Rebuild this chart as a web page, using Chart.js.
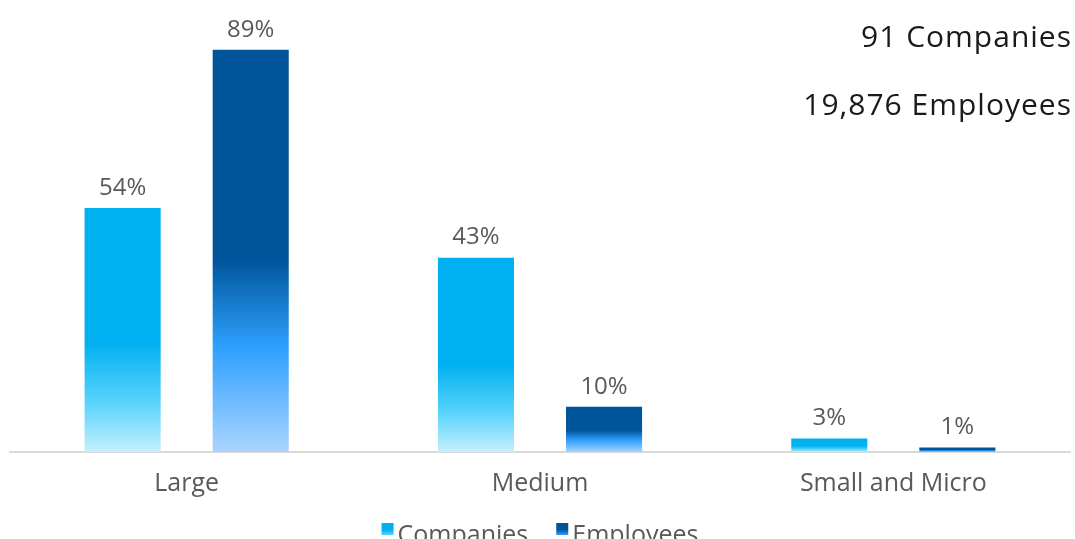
<!DOCTYPE html>
<html>
<head>
<meta charset="utf-8">
<script src="https://cdn.jsdelivr.net/npm/chart.js@4/dist/chart.umd.min.js"></script>
<style>
  html, body { margin: 0; padding: 0; background: #fff; overflow: hidden; }
  #chartWrapper { position: relative; width: 1075px; height: 539px; }
</style>
</head>
<body>
<div id="chartWrapper"><canvas id="chart"></canvas></div>
<script>
'use strict';

// Company size split
const categories = ['Large', 'Medium', 'Small and Micro'];
const companiesShare = [54, 43, 3];
const employeesShare = [89, 10, 1];
const totals = ['91 Companies', '19,876 Employees'];

const FONT = '"Open Sans", sans-serif';
const GREY = '#595959';

const companiesStops = [[0, '#00b0f0'], [0.55, '#00b0f0'], [0.8, '#5ad4fb'], [1, '#c4f0fd']];
const employeesStops = [[0, '#00559a'], [0.52, '#00559a'], [0.74, '#2ea0ff'], [1, '#aad4fe']];

const makeGradient = function (ctx, top, bottom, stops) {
    const grad = ctx.createLinearGradient(0, top, 0, bottom);
    stops.forEach(([pos, color]) => grad.addColorStop(pos, color));
    return grad;
};

// Vertical fill per bar: solid on the upper half, fading out towards the axis
const barGradient = function (stops) {
    return function (context) {
        const chart = context.chart;
        const yScale = chart.scales.y;
        if (!chart.chartArea || !yScale || context.parsed === undefined) {
            return stops[0][1];
        }
        const top = yScale.getPixelForValue(context.parsed.y);
        const bottom = yScale.getPixelForValue(0);
        if (!(bottom - top > 0.5)) {
            return stops[0][1];
        }
        return makeGradient(chart.ctx, top, bottom, stops);
    };
};

// Percent labels above the bars
const valueLabels = {
    id: 'valueLabels',
    afterDatasetsDraw(chart) {
        const ctx = chart.ctx;
        ctx.save();
        ctx.font = '24px ' + FONT;
        ctx.fillStyle = GREY;
        ctx.textAlign = 'center';
        ctx.textBaseline = 'middle';
        chart.data.datasets.forEach((ds, i) => {
            chart.getDatasetMeta(i).data.forEach((bar, j) => {
                ctx.fillText(ds.data[j] + '%', bar.x, bar.y - 20);
            });
        });
        ctx.restore();
    },
};

// Totals in the top right corner
const totalsText = {
    id: 'totalsText',
    afterDraw(chart) {
        const ctx = chart.ctx;
        ctx.save();
        ctx.font = '30px ' + FONT;
        ctx.letterSpacing = '1px';
        ctx.fillStyle = '#1a1a1a';
        ctx.textAlign = 'right';
        ctx.textBaseline = 'middle';
        ctx.fillText(totals[0], 1072, 38);
        ctx.fillText(totals[1], 1072, 106);
        ctx.restore();
    },
};

// Legend row under the axis, swatches carry the same fades as the bars
const bottomLegend = {
    id: 'bottomLegend',
    afterDraw(chart) {
        const ctx = chart.ctx;
        const area = chart.chartArea;
        const box = 12;
        const gap = 4;
        const spacing = 28;
        ctx.save();
        ctx.font = '25px ' + FONT;
        ctx.textBaseline = 'alphabetic';
        const items = chart.data.datasets.map((ds, i) => ({
            text: ds.label,
            stops: i === 0 ? companiesStops : employeesStops,
            width: box + gap + ctx.measureText(ds.label).width,
        }));
        const total = items.reduce((s, it) => s + it.width, 0) + spacing * (items.length - 1);
        let x = (area.left + area.right) / 2 - total / 2;
        const boxTop = 523;
        items.forEach((it) => {
            ctx.fillStyle = makeGradient(ctx, boxTop, boxTop + box, [
                [0, it.stops[0][1]], [0.55, it.stops[1][1]], [1, it.stops[2][1]],
            ]);
            ctx.fillRect(x, boxTop, box, box);
            ctx.fillStyle = GREY;
            ctx.fillText(it.text, x + box + gap, 543);
            x += it.width + spacing;
        });
        ctx.restore();
    },
};

const chart = new Chart(document.getElementById('chart'), {
    type: 'bar',
    data: {
        labels: categories,
        datasets: [
            {
                label: 'Companies',
                data: companiesShare,
                backgroundColor: barGradient(companiesStops),
            },
            {
                label: 'Employees',
                data: employeesShare,
                backgroundColor: barGradient(employeesStops),
            },
        ],
    },
    options: {
        responsive: true,
        maintainAspectRatio: false,
        animation: false,
        datasets: {
            bar: {
                categoryPercentage: 0.725,
                barPercentage: 0.594,
            },
        },
        layout: {
            padding: { left: 10, right: 5, top: 0, bottom: 23 },
        },
        plugins: {
            tooltip: { enabled: false },
            legend: { display: false },
        },
        scales: {
            x: {
                grid: { display: false, drawTicks: false },
                border: { color: '#d9d9d9', width: 2 },
                ticks: {
                    font: { family: FONT, size: 25 },
                    color: GREY,
                    padding: 17,
                },
            },
            y: {
                display: false,
                min: 0,
                max: 100,
            },
        },
    },
    plugins: [valueLabels, totalsText, bottomLegend],
});
chart.update();
</script>
</body>
</html>
